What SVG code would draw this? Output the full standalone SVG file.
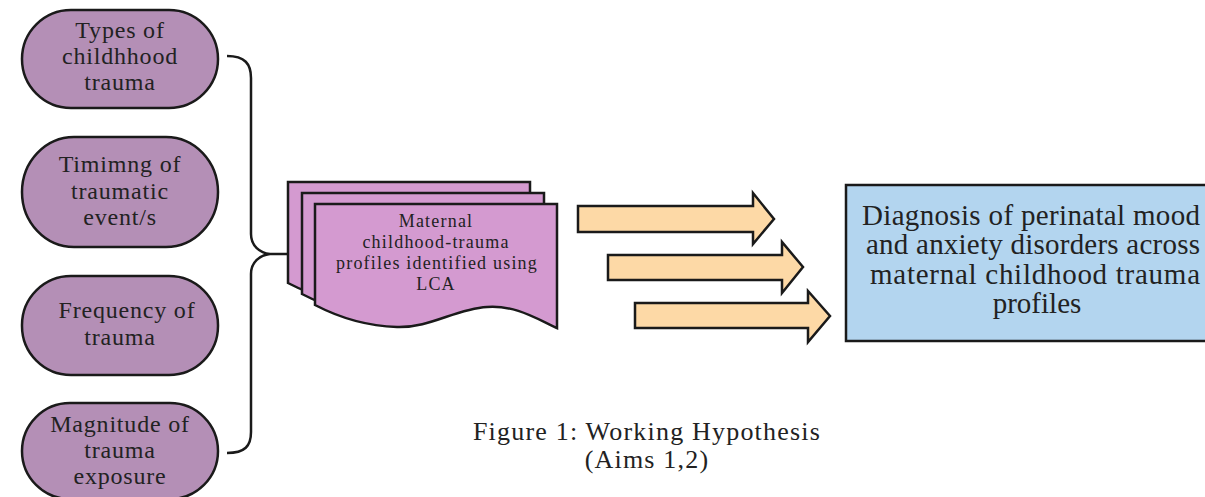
<svg xmlns="http://www.w3.org/2000/svg" width="1205" height="497" viewBox="0 0 1205 497">
<style>
.pill{fill:#b48fb6;stroke:#1a1a1a;stroke-width:2.5}
.doc{fill:#d49ad0;stroke:#1a1a1a;stroke-width:2.5}
.arr{fill:#fdd9a6;stroke:#1a1a1a;stroke-width:2.5;stroke-linejoin:miter}
.box{fill:#b3d5ef;stroke:#1a1a1a;stroke-width:2.5}
.con{fill:none;stroke:#1a1a1a;stroke-width:2.5}
text{font-family:"Liberation Serif","DejaVu Serif",serif;fill:#222;text-anchor:middle}
.t27{font-size:24px;letter-spacing:0.8px}
.t22{font-size:18px;letter-spacing:1.2px}
.t28{font-size:29px}
.t29{font-size:26px;letter-spacing:1.2px}
.ts{text-anchor:start}
</style>
<rect width="1205" height="497" fill="#ffffff"/>
<g id="connectors">
<path class="con" d="M227,56 C245,56 251,64 251,78 L251,234 C251,246 260,253 270,254 C260,255 251,262 251,274 L251,432 C251,446 245,453 227,453"/>
<path class="con" d="M270,254 L289,254"/>
</g>
<g id="node-types">
<rect class="pill" x="22" y="10" width="196" height="98" rx="49" ry="49"/>
<text class="t27" x="120" y="38">Types of</text>
<text class="t27" x="120" y="64">childhhood</text>
<text class="t27" x="120" y="90">trauma</text>
</g>
<g id="node-timing">
<rect class="pill" x="22" y="137" width="196" height="110" rx="52" ry="55"/>
<text class="t27" x="120" y="172">Timimng of</text>
<text class="t27" x="120" y="199">traumatic</text>
<text class="t27" x="120" y="225">event/s</text>
</g>
<g id="node-frequency">
<rect class="pill" x="22" y="276" width="196" height="99" rx="49" ry="49"/>
<text class="t27" x="127" y="318">Frequency of</text>
<text class="t27" x="120" y="345">trauma</text>
</g>
<g id="node-magnitude">
<rect class="pill" x="22" y="403" width="196" height="96" rx="48" ry="48"/>
<text class="t27" x="120" y="432">Magnitude of</text>
<text class="t27" x="120" y="458">trauma</text>
<text class="t27" x="120" y="484">exposure</text>
</g>
<g id="node-profiles">
<path class="doc" transform="translate(-27,-22)" d="M315,204 H557 V328 C535,318 515,305 487,307 C455,309 430,328 397,327 C365,326 340,318 315,305 Z"/>
<path class="doc" transform="translate(-13,-11)" d="M315,204 H557 V328 C535,318 515,305 487,307 C455,309 430,328 397,327 C365,326 340,318 315,305 Z"/>
<path class="doc" d="M315,204 H557 V328 C535,318 515,305 487,307 C455,309 430,328 397,327 C365,326 340,318 315,305 Z"/>
<text class="t22" x="436" y="227">Maternal</text>
<text class="t22" x="436" y="248">childhood-trauma</text>
<text class="t22" x="437" y="269">profiles identified using</text>
<text class="t22" x="436" y="290">LCA</text>
</g>
<g id="arrows">
<polygon class="arr" points="578,206 753,206 753,193 774,219 753,244 753,232 578,232"/>
<polygon class="arr" points="608,255 782,255 782,242 803,267 782,293 782,280 608,280"/>
<polygon class="arr" points="635,303 808,303 808,291 830,316 808,342 808,328 635,328"/>
</g>
<g id="node-diagnosis">
<rect class="box" x="846" y="185" width="400" height="156"/>
<text class="t28 ts" x="862" y="225" textLength="338" lengthAdjust="spacing">Diagnosis of perinatal mood</text>
<text class="t28 ts" x="866" y="254" textLength="334" lengthAdjust="spacing">and anxiety disorders across</text>
<text class="t28 ts" x="870" y="284" textLength="330" lengthAdjust="spacing">maternal childhood trauma</text>
<text class="t28" x="1037" y="313">profiles</text>
</g>
<g id="caption">
<text class="t29" x="647" y="440">Figure 1: Working Hypothesis</text>
<text class="t29" x="647" y="468">(Aims 1,2)</text>
</g>
</svg>
